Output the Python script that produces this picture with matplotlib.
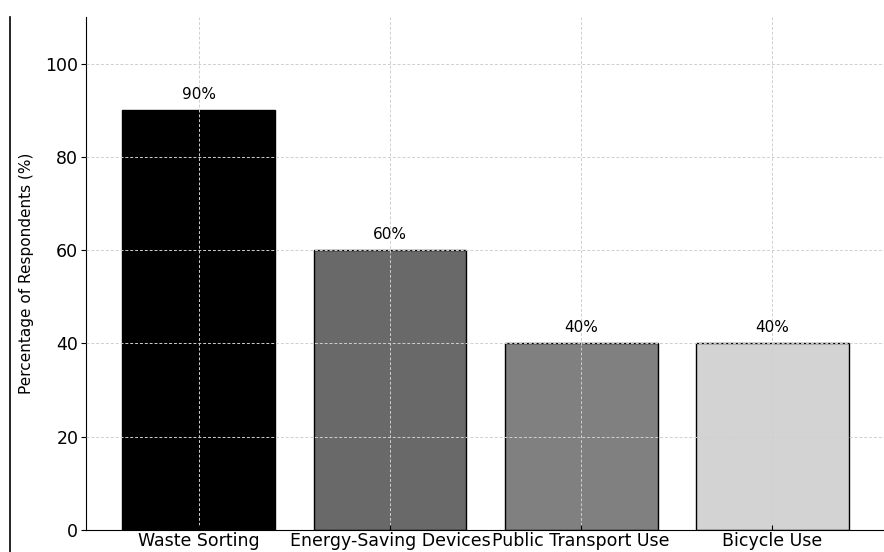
import matplotlib
matplotlib.use("Agg")
import matplotlib.pyplot as plt
from matplotlib.lines import Line2D

categories = ["Waste Sorting", "Energy-Saving Devices", "Public Transport Use", "Bicycle Use"]
percentages = [90, 60, 40, 40]
bar_colors = ["black", "dimgray", "gray", "lightgray"]


def main():
    fig = plt.figure(figsize=(8.84, 5.52), dpi=100)
    ax = fig.add_axes([0.0973, 0.0399, 0.904, 0.929])

    bars = ax.bar(categories, percentages, color=bar_colors, edgecolor="black", width=0.8)

    # value labels just above each bar
    for rect, val in zip(bars, percentages):
        ax.text(rect.get_x() + rect.get_width() / 2, val + 3.4, f"{val}%",
                ha="center", va="center", fontsize=11)

    ax.set_ylim(0, 110)
    ax.set_yticks([0, 20, 40, 60, 80, 100])
    ax.set_ylabel("Percentage of Respondents (%)", fontsize=11, labelpad=8)
    ax.tick_params(axis="y", labelsize=12.5, length=3.5, pad=2)
    ax.tick_params(axis="x", labelsize=12.5, length=3.5, pad=1.5, direction="in")
    ax.grid(True, linestyle=(0, (3, 2)), color="#cfcfcf", linewidth=0.7)
    ax.set_axisbelow(False)
    ax.spines["top"].set_visible(False)
    ax.spines["right"].set_visible(False)

    # page border on the left
    fig.add_artist(Line2D([0.0113, 0.0113], [0.0, 0.97], color="black", linewidth=1.2,
                          transform=fig.transFigure))

    fig.savefig("out.png", dpi=100)


if __name__ == "__main__":
    main()
